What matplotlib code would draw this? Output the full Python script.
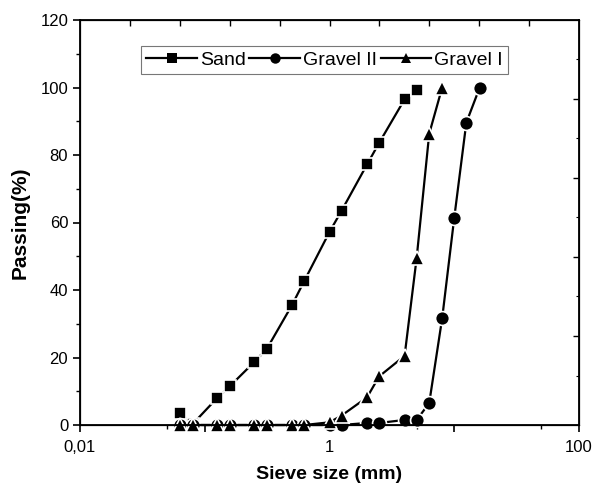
import matplotlib
matplotlib.use("Agg")
import matplotlib.pyplot as plt
import numpy as np

plt.rcParams["font.family"] = ["Liberation Sans", "DejaVu Sans"]

# sieve openings (mm)
sieve = [0.063, 0.08, 0.125, 0.16, 0.25, 0.315, 0.5, 0.63, 1.0, 1.25,
         2.0, 2.5, 4.0, 5.0, 6.3, 8.0, 10.0, 12.5, 16.0]

sand_x = [0.063, 0.08, 0.125, 0.16, 0.25, 0.315, 0.5, 0.63, 1.0, 1.25,
          2.0, 2.5, 4.0, 5.0]
sand_y = [3.6, 0.3, 7.9, 11.6, 18.7, 22.6, 35.5, 42.8, 57.2, 63.5,
          77.2, 83.6, 96.5, 99.3]

gravel2_x = sieve
gravel2_y = [0, 0, 0, 0, 0, 0, 0, 0, 0, 0,
             0.6, 0.6, 1.5, 1.5, 6.5, 31.6, 61.4, 89.6, 100]

gravel1_x = sieve[:16]
gravel1_y = [0, 0, 0, 0, 0, 0, 0, 0, 0.8, 2.8,
             8.2, 14.4, 20.5, 49.6, 86.3, 100]

fig = plt.figure(figsize=(5.98, 4.88), dpi=100)
ax = fig.add_axes([80 / 598, 1 - 425 / 488, 499 / 598, 405 / 488])

style = dict(color="black", lw=1.6, markeredgecolor="white", markeredgewidth=1.2,
             clip_on=False)
ax.plot(sand_x, sand_y, marker="s", ms=9, label="Sand", **style)
ax.plot(gravel2_x, gravel2_y, marker="o", ms=10, label="Gravel II", **style)
ax.plot(gravel1_x, gravel1_y, marker="^", ms=10.5, label="Gravel I", **style)

ax.set_xscale("log")
ax.set_xlim(0.01, 100)
ax.set_ylim(0, 120)

ax.set_xticks([0.01, 0.1, 1, 10, 100])
ax.set_xticklabels(["0,01", "", "1", "", "100"])
ax.set_xticks([0.05, 0.5, 5, 50], minor=True)
ax.xaxis.set_minor_formatter(matplotlib.ticker.NullFormatter())
ax.set_yticks(np.arange(0, 121, 20))
ax.set_yticks(np.arange(10, 120, 20), minor=True)

ax.tick_params(which="major", direction="out", length=5, width=1.2,
               labelsize=12, top=False, right=False)
ax.tick_params(which="minor", direction="out", length=3, width=1.0,
               top=False, right=False)
ax.tick_params(axis="x", pad=6)

for s in ax.spines.values():
    s.set_linewidth(1.3)

# top and right frame ticks (inward, own spacing)
axt = ax.twiny()
axt.set_xlim(0, 1)
axt.set_xticks(np.arange(0.1, 0.95, 0.1))
axt.tick_params(axis="x", direction="in", length=4, width=1.0, labeltop=False)
axr = ax.twinx()
axr.set_ylim(0, 1)
axr.set_yticks([1 - f for f in [0.194, 0.391, 0.586, 0.781]])
axr.set_yticks([1 - f for f in [0.096, 0.291, 0.487, 0.682, 0.879]], minor=True)
axr.tick_params(axis="y", which="major", direction="in", length=4, width=1.0,
                labelright=False)
axr.tick_params(axis="y", which="minor", direction="in", length=2, width=0.8)

ax.set_xlabel("Sieve size (mm)", fontsize=14, fontweight="bold", labelpad=8)
ax.set_ylabel("Passing(%)", fontsize=15, fontweight="bold", labelpad=8)

leg = ax.legend(loc="upper left", bbox_to_anchor=(0.123, 0.935), ncol=3,
                fontsize=14, frameon=True, fancybox=False, borderpad=0.25,
                handlelength=2.6, handletextpad=0.15, columnspacing=0.2,
                borderaxespad=0)
leg.get_frame().set_edgecolor("#555555")
leg.get_frame().set_linewidth(0.8)
for h in leg.legend_handles:
    h.set_markeredgewidth(0)
    h.set_markersize(7.5)

fig.savefig("out.png", dpi=100)
